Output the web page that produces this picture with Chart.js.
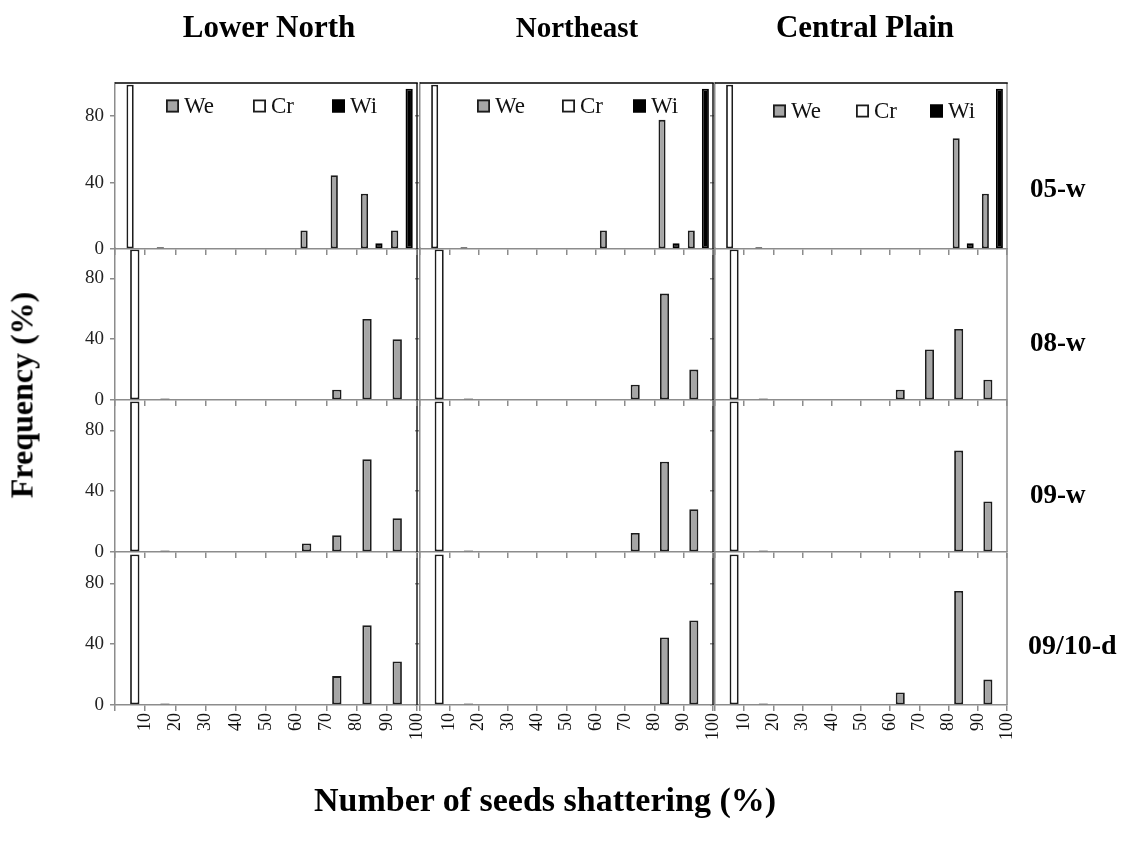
<!DOCTYPE html>
<html>
<head>
<meta charset="utf-8">
<title>Seed shattering frequency</title>
<script src="https://cdn.jsdelivr.net/npm/chart.js@4.4.1/dist/chart.umd.min.js"></script>
<style>
  html, body { margin: 0; padding: 0; background: #fff; }
  #fig { position: relative; width: 1127px; height: 844px; overflow: hidden;
         font-family: "Liberation Serif", "Times New Roman", serif; color: #000; }
  #fig canvas { position: absolute; left: 0; top: 0; pointer-events: none; }
  .title { position: absolute; font-weight: bold; white-space: nowrap; transform: translate(-50%, -50%); }
  .rowlab { position: absolute; font-weight: bold; white-space: nowrap; transform: translateY(-50%); }
</style>
</head>
<body>
<div id="fig">
  <div class="title" style="left:269px; top:27px; font-size:31px;">Lower North</div>
  <div class="title" style="left:577px; top:27px; font-size:29px;">Northeast</div>
  <div class="title" style="left:865px; top:27px; font-size:31px;">Central Plain</div>

  <div class="rowlab" style="left:1030px; top:188px; font-size:27px;">05-w</div>
  <div class="rowlab" style="left:1030px; top:342px; font-size:27px;">08-w</div>
  <div class="rowlab" style="left:1030px; top:494px; font-size:27px;">09-w</div>
  <div class="rowlab" style="left:1028px; top:645px; font-size:28px;">09/10-d</div>

  <div class="title" style="left:22px; top:395px; font-size:32px; transform: translate(-50%, -50%) rotate(-90deg);">Frequency (%)</div>
  <div class="title" style="left:545px; top:800px; font-size:34px;">Number of seeds shattering (%)</div>
</div>

<script>
// Shattering classes: each bar sits in the class whose upper bound is the tick label
const binUpper = [10, 20, 30, 40, 50, 60, 70, 80, 90, 100];
const yTicks = [0, 40, 80];
const regions = ['Lower North', 'Northeast', 'Central Plain'];
const seasons = ['05-w', '08-w', '09-w', '09/10-d'];

// Weedy rice (We), frequency in % per shattering class
const we05wLowerNorth     = [0, 0, 0, 0, 0, 0, 11.1, 44.4, 33.3, 11.1];
const we05wNortheast      = [0, 0, 0, 0, 0, 0, 11.1, 0, 77.8, 11.1];
const we05wCentralPlain   = [0, 0, 0, 0, 0, 0, 0, 0, 66.7, 33.3];
const we08wLowerNorth     = [0, 0, 0, 0, 0, 0, 0, 6.7, 53.3, 40.0];
const we08wNortheast      = [0, 0, 0, 0, 0, 0, 0, 10.0, 70.0, 20.0];
const we08wCentralPlain   = [0, 0, 0, 0, 0, 0, 6.7, 33.3, 46.7, 13.3];
const we09wLowerNorth     = [0, 0, 0, 0, 0, 0, 5.6, 11.1, 61.1, 22.2];
const we09wNortheast      = [0, 0, 0, 0, 0, 0, 0, 12.5, 59.4, 28.1];
const we09wCentralPlain   = [0, 0, 0, 0, 0, 0, 0, 0, 66.7, 33.3];
const we0910dLowerNorth   = [0, 0, 0, 0, 0, 0, 0, 19.0, 52.4, 28.6];
const we0910dNortheast    = [0, 0, 0, 0, 0, 0, 0, 0, 44.4, 55.6];
const we0910dCentralPlain = [0, 0, 0, 0, 0, 0, 8.3, 0, 75.0, 16.7];

// Cultivated rice (Cr), same in every panel
const crAll = [99, 1, 0, 0, 0, 0, 0, 0, 0, 0];
// Wild rice (Wi), shown with the 05-w row only
const wi05w = [0, 0, 0, 0, 0, 0, 0, 0, 3.4, 96.6];

const weByPanel = [
  [we05wLowerNorth, we05wNortheast, we05wCentralPlain],
  [we08wLowerNorth, we08wNortheast, we08wCentralPlain],
  [we09wLowerNorth, we09wNortheast, we09wCentralPlain],
  [we0910dLowerNorth, we0910dNortheast, we0910dCentralPlain]
];

// ---- layout of the 4 x 3 panel grid (plot-area rectangles, px) ----
const W = 1127, H = 844;
const colBox = [ { left: 115, right: 417 }, { left: 420, right: 713 }, { left: 715, right: 1007 } ];
const rowBox = [ { top: 83, bottom: 249 }, { top: 248, bottom: 400 }, { top: 400, bottom: 552 }, { top: 553, bottom: 705 } ];
const Y_AXIS_W = 40, X_AXIS_H = 50;
const SERIF = '"Liberation Serif", "Times New Roman", serif';
const AXIS = '#8c8c8c';
const EDGE = '#1c1c1c';

const seriesStyle = {
  We: { fill: '#a6a6a6', line: EDGE },
  Cr: { fill: '#ffffff', line: EDGE },
  Wi: { fill: '#000000', line: '#000000' }
};

// legend item offsets inside the top row plot areas
const legendSpots = [
  { dy: 23, dx: [51, 138, 217] },
  { dy: 23, dx: [57, 142, 213] },
  { dy: 28, dx: [58, 141, 215] }
];

// frame lines and in-plot legend
const panelDecor = {
  id: 'panelDecor',
  afterDatasetsDraw(chart, args, opts) {
    const ca = chart.chartArea, ctx = chart.ctx;
    ctx.save();
    ctx.lineWidth = 1.5;
    ctx.strokeStyle = opts.rightColor;
    ctx.beginPath();
    ctx.moveTo(ca.right, ca.top);
    ctx.lineTo(ca.right, ca.bottom);
    ctx.stroke();
    if (opts.topLine) {
      ctx.strokeStyle = '#000';
      ctx.beginPath();
      ctx.moveTo(ca.left, ca.top);
      ctx.lineTo(ca.right + 0.75, ca.top);
      ctx.stroke();
    }
    if (opts.legend) {
      const sz = 13;
      ctx.font = '23px ' + SERIF;
      ctx.textBaseline = 'middle';
      ctx.textAlign = 'left';
      chart.data.datasets.forEach((ds, i) => {
        const x = ca.left + opts.legend.dx[i];
        const yc = ca.top + opts.legend.dy;
        ctx.fillStyle = ds.backgroundColor;
        ctx.fillRect(x, yc - sz / 2, sz, sz);
        ctx.strokeStyle = ds.borderColor;
        ctx.lineWidth = 1.8;
        ctx.strokeRect(x + 0.9, yc - sz / 2 + 0.9, sz - 1.8, sz - 1.8);
        ctx.fillStyle = '#111';
        ctx.fillText(ds.label, x + sz + 5, yc + 1);
      });
    }
    ctx.restore();
  }
};

function toPoints(values) {
  return values.map((v, i) => ({ x: binUpper[i] - 5, y: v }));
}

function makeDataset(name, values) {
  return {
    label: name,
    data: toPoints(values),
    backgroundColor: seriesStyle[name].fill,
    borderColor: seriesStyle[name].line,
    borderWidth: 1.8,
    borderSkipped: false
  };
}

const fig = document.getElementById('fig');

function makePanel(r, c) {
  const canvas = document.createElement('canvas');
  canvas.width = W;
  canvas.height = H;
  fig.insertBefore(canvas, fig.firstChild);

  const withWild = (r === 0);
  const datasets = [ makeDataset('We', weByPanel[r][c]), makeDataset('Cr', crAll) ];
  if (withWild) datasets.push(makeDataset('Wi', wi05w));

  const showX = (r === rowBox.length - 1);
  const showY = (c === 0);
  const col = colBox[c], row = rowBox[r];

  new Chart(canvas, {
    type: 'bar',
    data: { datasets },
    options: {
      responsive: false,
      animation: false,
      events: [],
      layout: {
        padding: {
          left: col.left - Y_AXIS_W,
          right: W - col.right,
          top: row.top,
          bottom: H - row.bottom - X_AXIS_H
        }
      },
      datasets: {
        bar: {
          categoryPercentage: withWild ? 0.72 : 0.62,
          barPercentage: 1,
          grouped: true
        }
      },
      plugins: {
        legend: { display: false },
        tooltip: { enabled: false },
        panelDecor: {
          rightColor: c < 2 ? '#1a1a1a' : AXIS,
          topLine: r === 0,
          legend: r === 0 ? legendSpots[c] : null
        }
      },
      scales: {
        x: {
          type: 'linear',
          min: 0,
          max: 100,
          offset: false,
          grid: { drawOnChartArea: false, drawTicks: true, tickLength: 6, color: AXIS, lineWidth: 1.5, offset: false },
          border: { display: true, color: AXIS, width: 1.5 },
          ticks: {
            stepSize: 10,
            autoSkip: false,
            minRotation: 90,
            maxRotation: 90,
            padding: 2,
            color: '#111',
            font: { family: SERIF, size: 18 },
            callback: v => (showX && binUpper.includes(v)) ? String(v) : ''
          },
          afterFit: s => { s.height = X_AXIS_H; }
        },
        y: {
          min: 0,
          max: 100,
          grid: { drawOnChartArea: false, drawTicks: true, tickLength: 5, color: AXIS, lineWidth: 1.5 },
          border: { display: true, color: AXIS, width: 1.5 },
          ticks: {
            stepSize: 40,
            includeBounds: false,
            padding: 6,
            color: '#222',
            font: { family: SERIF, size: 19 },
            callback: v => (showY && yTicks.includes(v)) ? String(v) : ''
          },
          afterFit: s => { s.width = Y_AXIS_W; }
        }
      }
    },
    plugins: [panelDecor]
  });
}

for (let r = 0; r < rowBox.length; r++) {
  for (let c = 0; c < colBox.length; c++) {
    makePanel(r, c);
  }
}
</script>
</body>
</html>
